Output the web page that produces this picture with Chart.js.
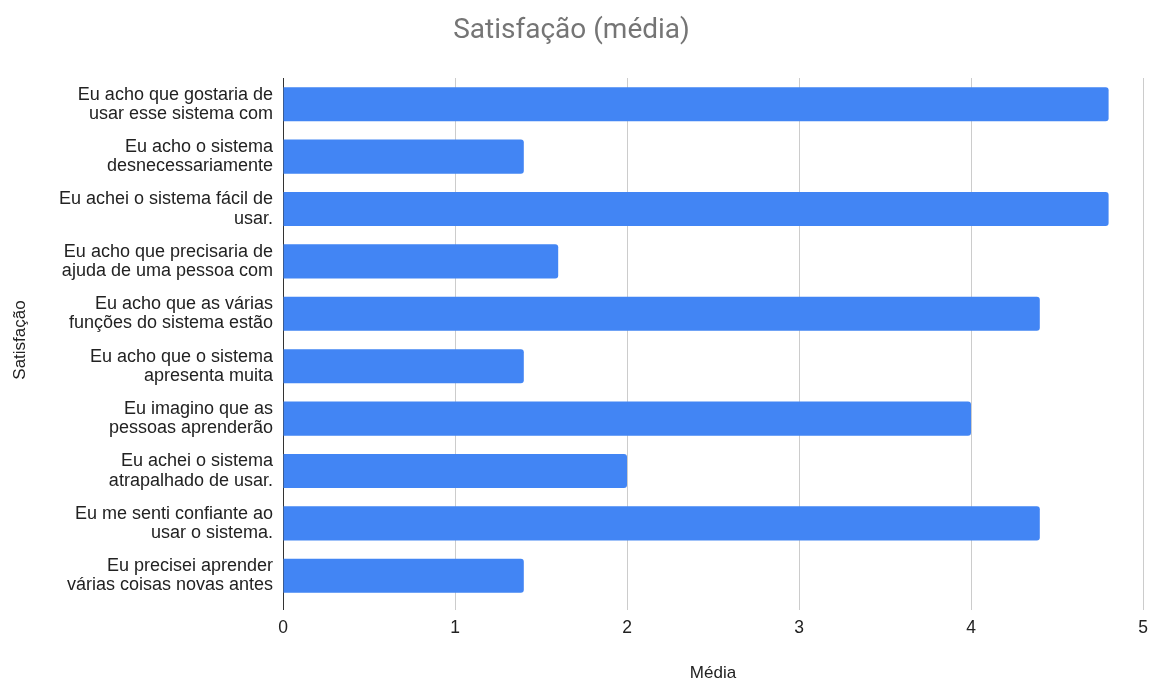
<!DOCTYPE html>
<html>
<head>
<meta charset="utf-8">
<script src="https://cdn.jsdelivr.net/npm/chart.js@4"></script>
<style>
  html, body { margin: 0; padding: 0; background: #fff; }
  #wrap { width: 1156px; height: 682px; }
</style>
</head>
<body>
<div id="wrap"><canvas id="satChart" width="1156" height="682"></canvas></div>
<script>
// categories (as shown, truncated to two lines)
const categories = [
    ['Eu acho que gostaria de', 'usar esse sistema com'],
    ['Eu acho o sistema', 'desnecessariamente'],
    ['Eu achei o sistema fácil de', 'usar.'],
    ['Eu acho que precisaria de', 'ajuda de uma pessoa com'],
    ['Eu acho que as várias', 'funções do sistema estão'],
    ['Eu acho que o sistema', 'apresenta muita'],
    ['Eu imagino que as', 'pessoas aprenderão'],
    ['Eu achei o sistema', 'atrapalhado de usar.'],
    ['Eu me senti confiante ao', 'usar o sistema.'],
    ['Eu precisei aprender', 'várias coisas novas antes']
];
const mediaValues = [4.8, 1.4, 4.8, 1.6, 4.4, 1.4, 4.0, 2.0, 4.4, 1.4];
const xTicks = [0, 1, 2, 3, 4, 5];

const labelFont = '"Liberation Sans", Arial, sans-serif';

const ctx = document.getElementById('satChart').getContext('2d');
new Chart(ctx, {
    type: 'bar',
    data: {
        labels: categories,
        datasets: [{
            label: 'Média',
            data: mediaValues,
            backgroundColor: '#4285F4',
            borderRadius: 3,
            borderSkipped: 'start',
            categoryPercentage: 1,
            barPercentage: 0.65
        }]
    },
    options: {
        indexAxis: 'y',
        responsive: false,
        animation: false,
        layout: { padding: { left: 0, right: 13, top: 0, bottom: 0 } },
        plugins: {
            legend: { display: false },
            tooltip: { enabled: false },
            title: {
                display: true,
                text: 'Satisfação (média)',
                color: '#757575',
                font: { family: 'Roboto, Arial, sans-serif', size: 28, weight: 'normal', lineHeight: 1.2 },
                padding: { top: 14, bottom: 30.4 }
            }
        },
        scales: {
            x: {
                min: 0,
                max: 5,
                afterBuildTicks: (axis) => { axis.ticks = xTicks.map(v => ({ value: v })); },
                afterFit: (axis) => { axis.height = 80; },
                grid: {
                    color: (c) => (c.tick && c.tick.value === 0 ? '#333333' : '#cccccc'),
                    drawTicks: true,
                    tickLength: 8
                },
                border: { display: false },
                ticks: { color: '#222222', font: { family: labelFont, size: 17.5, lineHeight: 1.2 }, padding: 8 },
                title: {
                    display: true,
                    text: 'Média',
                    color: '#222222',
                    font: { family: labelFont, size: 17, lineHeight: 1 },
                    padding: { top: 0, bottom: 0 }
                }
            },
            y: {
                afterFit: (axis) => { axis.width = 283; },
                grid: { display: false, drawTicks: false },
                border: { display: false },
                ticks: { color: '#222222', font: { family: labelFont, size: 18, lineHeight: 1.06 }, padding: 10 },
                title: {
                    display: true,
                    text: 'Satisfação',
                    color: '#222222',
                    font: { family: labelFont, size: 17, lineHeight: 1.2 },
                    padding: { top: 10, bottom: 0 }
                }
            }
        }
    }
});
</script>
</body>
</html>
